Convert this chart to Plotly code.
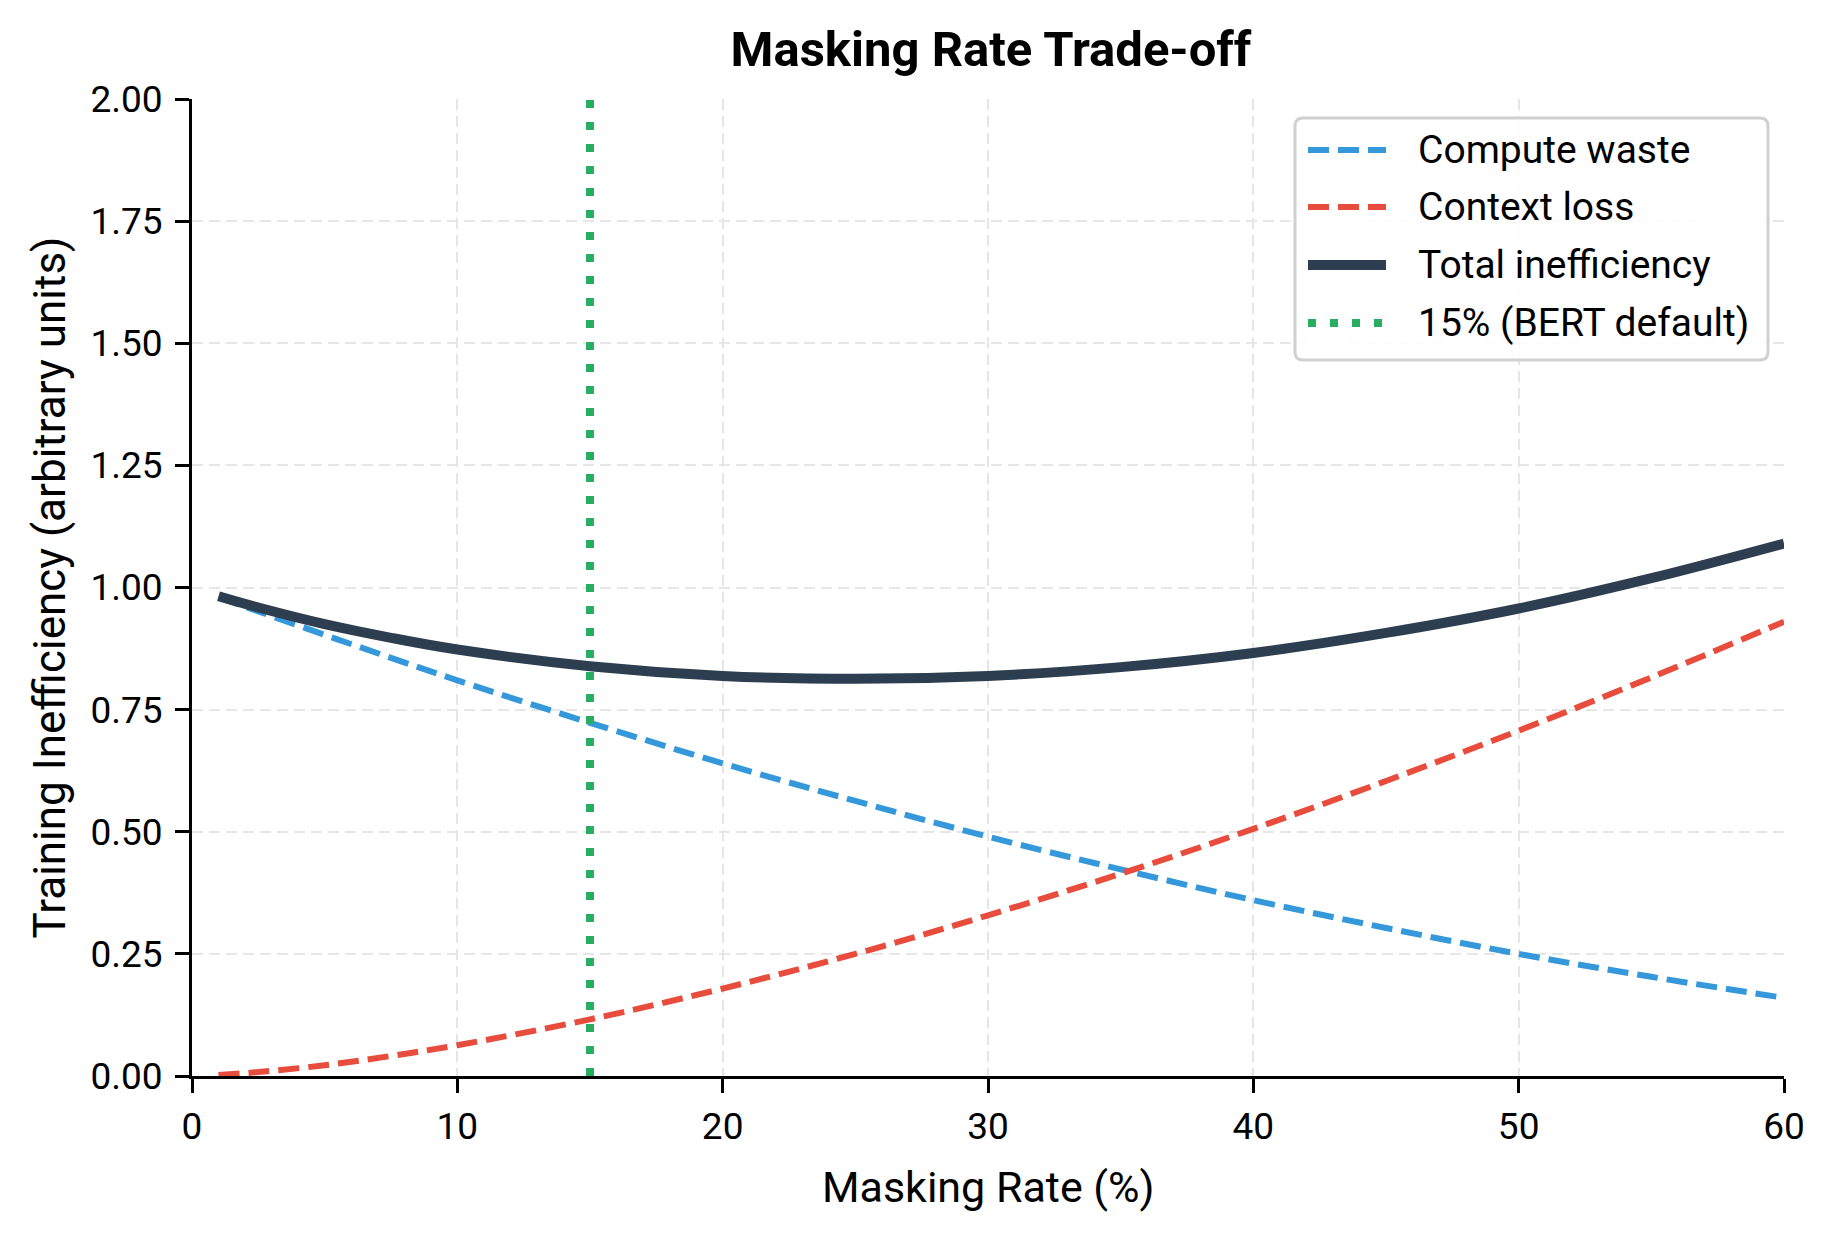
import plotly.graph_objects as go

# ---- data ----
masking_rate = [1, 2.5, 5, 7.5, 10, 15, 20, 25, 30, 35, 40, 45, 50, 55, 60]
compute_waste = [0.980, 0.951, 0.903, 0.856, 0.810, 0.723, 0.640, 0.563, 0.490,
                 0.423, 0.360, 0.303, 0.250, 0.203, 0.160]
context_loss = [0.002, 0.008, 0.022, 0.041, 0.063, 0.116, 0.179, 0.250, 0.329,
                0.414, 0.506, 0.604, 0.707, 0.816, 0.930]
total_ineff = [0.982, 0.959, 0.925, 0.897, 0.873, 0.839, 0.819, 0.813, 0.819,
               0.837, 0.866, 0.907, 0.957, 1.019, 1.090]
bert_rate = 15
y_span = [0, 2]

legend_labels = ["Compute waste", "Context loss", "Total inefficiency", "15% (BERT default)"]

BLUE = "#3498db"
RED = "#e74c3c"
DARK = "#2c3e50"
GREEN = "#27ae60"
FONT = "Roboto"

OFF = 8  # page body margin
W, H = 1834 - OFF, 1234 - OFF
L, R, T, B = 192, 1784, 99, 1076  # plot area in page pixels


def px(xp):
    return (xp - L) / (R - L)


def py(yp):
    return (B - yp) / (B - T)


fig = go.Figure()
fig.add_trace(go.Scatter(x=masking_rate, y=compute_waste, mode="lines", line_shape="spline",
                         line=dict(color=BLUE, width=6, dash="21px,9px"), showlegend=False))
fig.add_trace(go.Scatter(x=masking_rate, y=context_loss, mode="lines", line_shape="spline",
                         line=dict(color=RED, width=6, dash="21px,9px"), showlegend=False))
fig.add_trace(go.Scatter(x=masking_rate, y=total_ineff, mode="lines", line_shape="spline",
                         line=dict(color=DARK, width=10), showlegend=False))
fig.add_trace(go.Scatter(x=[bert_rate, bert_rate], y=y_span, mode="lines",
                         line=dict(color=GREEN, width=8, dash="8px,14px"), showlegend=False))

axis_common = dict(
    showline=True, linecolor="black", linewidth=3, mirror=False,
    ticks="outside", ticklen=14, tickwidth=3, tickcolor="black",
    showgrid=True, gridcolor="#e6e6e6", gridwidth=2, griddash="11px,6px",
    zeroline=False, tickfont=dict(family=FONT, size=37, color="black"),
)

fig.update_xaxes(range=[0, 60], dtick=10, tick0=0, ticklabelstandoff=2, **axis_common)
fig.update_yaxes(range=[0, 2], dtick=0.25, tick0=0, tickformat=".2f", ticklabelstandoff=5,
                 **axis_common)

annotations = [
    dict(text="Masking Rate (%)", xref="paper", yref="paper", x=0.5, y=py(1187),
         xanchor="center", yanchor="middle", showarrow=False,
         font=dict(family=FONT, size=43, color="black")),
    dict(text="Training Inefficiency (arbitrary units)", xref="paper", yref="paper",
         x=px(49), y=0.5, xanchor="center", yanchor="middle", textangle=-90,
         showarrow=False, font=dict(family=FONT, size=44, color="black")),
]

# manual legend
bx0, bx1, by0, by1 = 1295, 1768, 118, 360
rr = 8
shapes = [dict(
    type="path", xref="paper", yref="paper",
    path=(f"M {px(bx0+rr)},{py(by0)} L {px(bx1-rr)},{py(by0)} Q {px(bx1)},{py(by0)} {px(bx1)},{py(by0+rr)} "
          f"L {px(bx1)},{py(by1-rr)} Q {px(bx1)},{py(by1)} {px(bx1-rr)},{py(by1)} "
          f"L {px(bx0+rr)},{py(by1)} Q {px(bx0)},{py(by1)} {px(bx0)},{py(by1-rr)} "
          f"L {px(bx0)},{py(by0+rr)} Q {px(bx0)},{py(by0)} {px(bx0+rr)},{py(by0)} Z"),
    line=dict(color="#d0d0d0", width=3), fillcolor="rgba(255,255,255,0.85)", layer="above",
)]
row_y = [150, 207, 265, 323]
styles = [(BLUE, 6, "21px,9px"), (RED, 6, "21px,9px"), (DARK, 10, "solid"), (GREEN, 8, "8px,14px")]
for yy, lab, (c, w, d) in zip(row_y, legend_labels, styles):
    shapes.append(dict(type="line", xref="paper", yref="paper", x0=px(1308), x1=px(1386),
                       y0=py(yy), y1=py(yy), line=dict(color=c, width=w, dash=d), layer="above"))
    annotations.append(dict(text=lab, xref="paper", yref="paper", x=px(1416), y=py(yy),
                            xanchor="left", yanchor="middle", showarrow=False,
                            font=dict(family=FONT, size=39, color="black")))

fig.update_layout(
    width=W, height=H,
    margin=dict(l=L - OFF, r=(W + OFF) - R, t=T - OFF, b=(H + OFF) - B),
    paper_bgcolor="white", plot_bgcolor="white",
    title=dict(text="<b>Masking Rate Trade-off</b>", x=px(991), xref="paper",
               y=1 - (49 - OFF) / H, yref="container", xanchor="center", yanchor="middle",
               font=dict(family=FONT, size=49, color="black")),
    annotations=annotations, shapes=shapes, showlegend=False,
)

fig.write_html("out.html")
